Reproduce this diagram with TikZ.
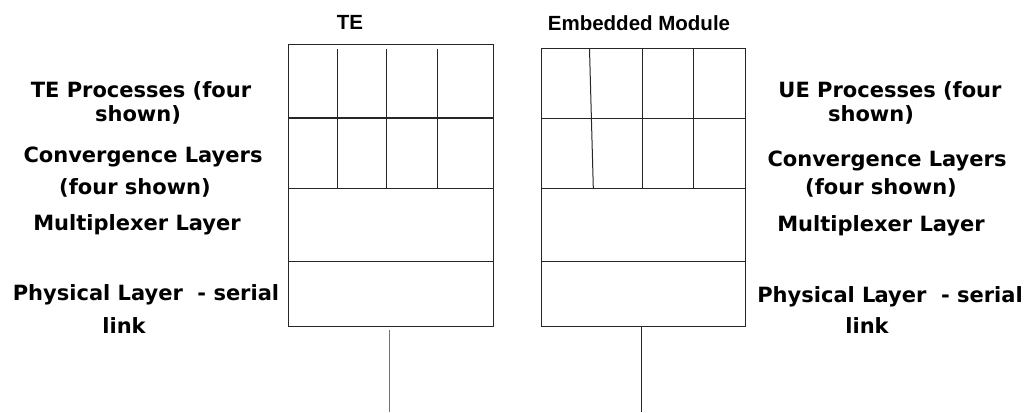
\documentclass[tikz,border=0pt]{standalone}
\usepackage{fontspec}
\setmainfont{DejaVu Sans}
\newfontfamily\titlefont{Liberation Sans}
\begin{document}
\begin{tikzpicture}[x=1pt,y=-1pt,
  lab/.style={font=\fontsize{21}{24}\selectfont\bfseries, anchor=base, inner sep=0pt},
  ttl/.style={font=\titlefont\fontsize{20.5}{24}\selectfont\bfseries, anchor=base, inner sep=0pt},
  frame/.style={draw=black!85, line width=1pt},
  thickrule/.style={draw=black!85, line width=1.8pt},
  link/.style={draw=black!85, line width=1pt}]
\useasboundingbox (0,0) rectangle (1027,412);
% titles
\node[ttl] (tteT) at (350,30) {TE};
\node[ttl] (tteE) at (639,31) {Embedded Module};
% left stack
\draw[frame] (288,45) rectangle (493,326);
\draw[thickrule] (288,118) -- (493,118);
\draw[frame] (288,188) -- (493,188);
\draw[frame] (288,261) -- (493,261);
\foreach \xx in {337,386,437} \draw[frame] (\xx,49) -- (\xx,188);
\coordinate (teb) at (389,330);
\coordinate (tee) at (389,412);
\draw[link, draw=black!55] (teb) -- (tee);
% right stack
\draw[frame] (541,49) rectangle (745,326);
\draw[frame] (541,118) -- (745,118);
\draw[frame] (541,188) -- (745,188);
\draw[frame] (541,261) -- (745,261);
\draw[frame] (589.5,49) -- (593.3,188);
\foreach \xx in {642,693} \draw[frame] (\xx,49) -- (\xx,188);
\coordinate (emb) at (641,326);
\coordinate (eme) at (641,412);
\draw[link] (emb) -- (eme);
% left labels
\node[lab] (lp1) at (141,97) {TE Processes (four};
\node[lab] (lp2) at (138,121) {shown)};
\node[lab] (lc1) at (143,162) {Convergence Layers};
\node[lab] (lc2) at (135,194) {(four shown)};
\node[lab] (lm) at (137,230) {Multiplexer Layer};
\node[lab] (lph1) at (146,300) {Physical Layer\ \ - serial};
\node[lab] (lph2) at (124,333) {link};
% right labels
\node[lab] (rp1) at (890,97) {UE Processes (four};
\node[lab] (rp2) at (871,121) {shown)};
\node[lab] (rc1) at (887,166) {Convergence Layers};
\node[lab] (rc2) at (881,194) {(four shown)};
\node[lab] (rm) at (881,231) {Multiplexer Layer};
\node[lab] (rph1) at (890,302) {Physical L\kern-1pt ayer\ \ - serial};
\node[lab] (rph2) at (867,333) {link};
\end{tikzpicture}
\end{document}
